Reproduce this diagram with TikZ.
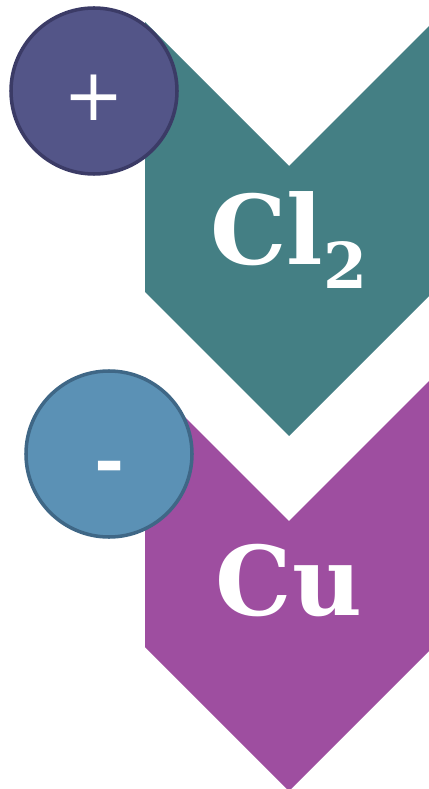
\documentclass[tikz,border=0pt]{standalone}
\usepackage{fontspec}
\usepackage{xcolor}
\newfontfamily\elemfont{DejaVu Serif}
\definecolor{chlorine}{HTML}{447F84}
\definecolor{copper}{HTML}{9E4EA0}
\definecolor{anodefill}{HTML}{535588}
\definecolor{anodeline}{HTML}{3B3B66}
\definecolor{cathodefill}{HTML}{5B91B5}
\definecolor{cathodeline}{HTML}{3F6786}

\begin{document}
\begin{tikzpicture}[x=0.03cm, y=-0.03cm,
    ion/.style={circle, line width=3pt, minimum size=4.98cm, inner sep=0pt},
    symbol/.style={text=white, inner sep=0pt, anchor=base, font=\elemfont\bfseries\fontsize{82}{82}\selectfont},
    charge/.style={text=white, inner sep=0pt, font=\elemfont\fontsize{62}{62}\selectfont}]
    \useasboundingbox (0,0) rectangle (429,789);

    % chevrons
    \fill [chlorine] (145,22) -- (289,166) -- (433,22) -- (433,292) -- (289,436) -- (145,292) -- cycle;
    \fill [copper] (145,377) -- (289,521) -- (433,377) -- (433,647) -- (289,791) -- (145,647) -- cycle;

    \node [symbol] (cl) at (289,264) {Cl\raisebox{-21pt}{\fontsize{54}{54}\selectfont 2}};
    \node [symbol] (cu) at (289,615) {Cu};

    % electrodes
    \node [ion, fill=anodefill, draw=anodeline] (anode) at (94,91) {};
    \node [ion, fill=cathodefill, draw=cathodeline] (cathode) at (109,454) {};
    \node [charge] (plus) at (94,98) {+};
    \node [charge, font=\elemfont\bfseries\fontsize{62}{62}\selectfont, anchor=base] (minus) at (109.5,485) {-};
\end{tikzpicture}
\end{document}
